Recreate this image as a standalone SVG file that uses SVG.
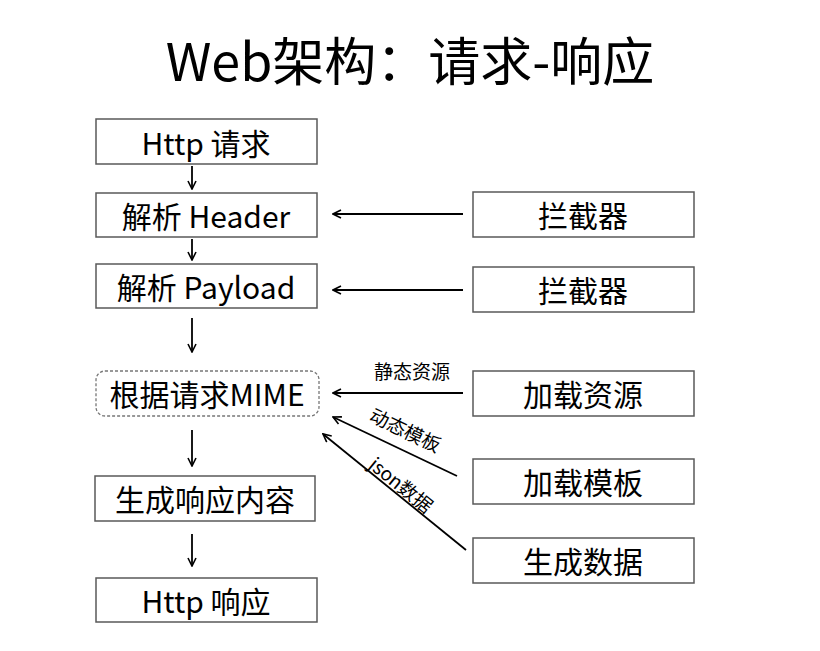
<svg xmlns="http://www.w3.org/2000/svg" width="820" height="651" viewBox="0 0 820 651">
<style>
text{font-family:"Noto Sans CJK SC","Liberation Sans",sans-serif;fill:#000}
.box{fill:#fff;stroke:#595959;stroke-width:1.5}
.dash{fill:#fff;stroke:#777;stroke-width:1.3;stroke-dasharray:3 2}
.lbl{font-size:30px;text-anchor:middle;dominant-baseline:central}
.small{font-size:19px;text-anchor:middle;dominant-baseline:central}
.c line{stroke:#000;stroke-width:1.8;marker-end:url(#ah)}
</style>
<defs>
<marker id="ah" viewBox="0 0 10 10" refX="9" refY="5" markerWidth="10" markerHeight="10" markerUnits="userSpaceOnUse" orient="auto">
<path d="M1,1 L9,5 L1,9" fill="none" stroke="#000" stroke-width="1.6"/>
</marker>
</defs>
<rect width="820" height="651" fill="#fff"/>
<text x="410" y="58" font-size="52" text-anchor="middle" dominant-baseline="central">Web架构：请求-响应</text>
<g class="c">
<line x1="192" y1="166" x2="192" y2="189"/>
<line x1="192" y1="239" x2="192" y2="260"/>
<line x1="192" y1="318" x2="192" y2="352"/>
<line x1="192" y1="430" x2="192" y2="466"/>
<line x1="192" y1="534" x2="192" y2="566"/>
<line x1="463" y1="214" x2="333" y2="214"/>
<line x1="463" y1="290" x2="333" y2="290"/>
<line x1="463" y1="393" x2="333" y2="393"/>
<line x1="457" y1="476" x2="333" y2="417"/>
<line x1="466" y1="550" x2="323" y2="434"/>
</g>
<text class="small" x="412" y="370">静态资源</text>
<text class="small" transform="translate(406,429) rotate(25.5)">动态模板</text>
<text class="small" transform="translate(402,484) rotate(39)">json数据</text>
<g id="n1"><rect class="box" x="96" y="119" width="221" height="45"/><text class="lbl" x="206" y="142">Http 请求</text></g>
<g id="n2"><rect class="box" x="96" y="193" width="221" height="44"/><text class="lbl" x="206" y="215">解析 Header</text></g>
<g id="n3"><rect class="box" x="96" y="264" width="221" height="44"/><text class="lbl" x="206" y="286">解析 Payload</text></g>
<g id="n4"><rect class="dash" x="96" y="371" width="223" height="45" rx="9"/><text class="lbl" x="207" y="393">根据请求MIME</text></g>
<g id="n5"><rect class="box" x="95" y="476" width="220" height="45"/><text class="lbl" x="205" y="498">生成响应内容</text></g>
<g id="n6"><rect class="box" x="96" y="578" width="221" height="44"/><text class="lbl" x="206" y="600">Http 响应</text></g>
<g id="r1"><rect class="box" x="473" y="192" width="221" height="45"/><text class="lbl" x="583" y="214">拦截器</text></g>
<g id="r2"><rect class="box" x="473" y="267" width="221" height="45"/><text class="lbl" x="583" y="289">拦截器</text></g>
<g id="r3"><rect class="box" x="473" y="371" width="221" height="45"/><text class="lbl" x="583" y="393">加载资源</text></g>
<g id="r4"><rect class="box" x="473" y="459" width="221" height="45"/><text class="lbl" x="583" y="481">加载模板</text></g>
<g id="r5"><rect class="box" x="473" y="538" width="221" height="45"/><text class="lbl" x="583" y="560">生成数据</text></g>
</svg>
